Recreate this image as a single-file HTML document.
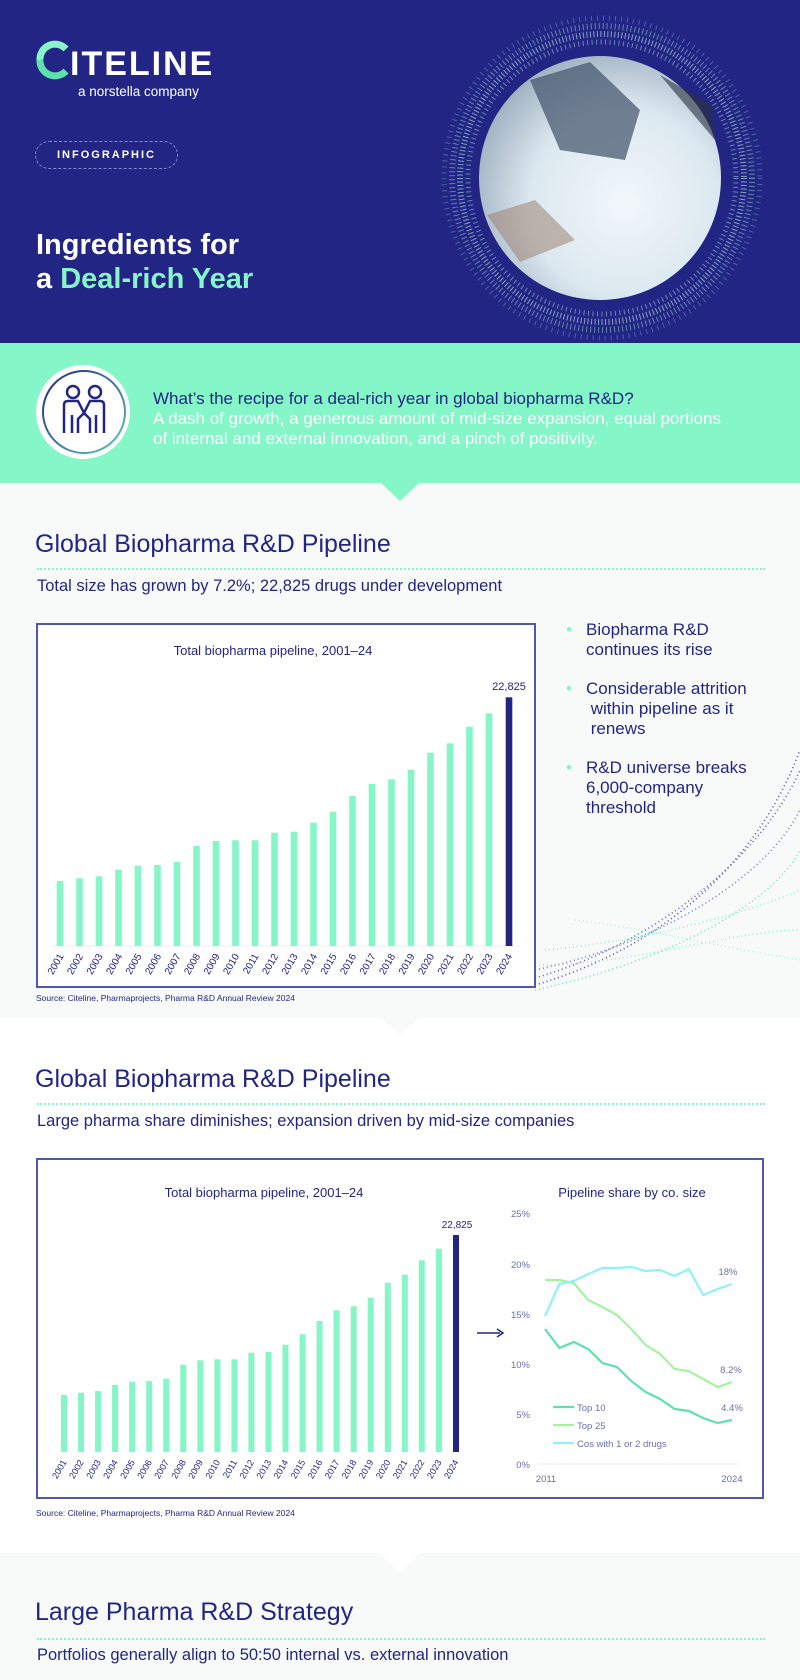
<!DOCTYPE html>
<html><head><meta charset="utf-8">
<style>
*{margin:0;padding:0;box-sizing:border-box}
body{width:800px;height:1680px;position:relative;overflow:hidden;background:#fff;font-family:"Liberation Sans",sans-serif;color:#232584}
.a{position:absolute;white-space:nowrap}
.h{font-size:25px;color:#232584;left:35px}
.dot{position:absolute;left:37px;width:728px;height:0;border-top:2px dotted #86f5c8}
.sub{font-size:16.5px;left:37px;color:#232584}
</style></head><body>
<!-- header -->
<div class="a" style="left:0;top:0;width:800px;height:343px;background:#232584"></div>
<svg class="a" style="left:0;top:0" width="800" height="343">
<defs><radialGradient id="ph" cx="60%" cy="60%" r="65%"><stop offset="0" stop-color="#f2f7fb"/><stop offset="0.6" stop-color="#dce8f0"/><stop offset="1" stop-color="#9fb0c0"/></radialGradient></defs>
<g fill="none">
<ellipse cx="602" cy="178" rx="158" ry="160" stroke="#6f9fc0" stroke-width="5" stroke-dasharray="1 5" opacity="0.5"/>
<ellipse cx="602" cy="178" rx="150" ry="152" stroke="#8cc4c8" stroke-width="6" stroke-dasharray="1 3" opacity="0.6"/>
<ellipse cx="602" cy="178" rx="142" ry="144" stroke="#a9d8d6" stroke-width="6" stroke-dasharray="1 2.5" opacity="0.7"/>
<ellipse cx="602" cy="178" rx="134" ry="136" stroke="#9cc8d0" stroke-width="5" stroke-dasharray="1 3.5" opacity="0.6"/>
</g>
<ellipse cx="600" cy="178" rx="121" ry="122" fill="url(#ph)"/>
<path d="M530 80 L590 62 L640 110 L625 160 L560 150 Z" fill="#4a5a70" opacity="0.75"/>
<path d="M660 75 L715 140 L712 105 Z" fill="#2a3240" opacity="0.6"/>
<path d="M487 215 L535 200 L575 240 L520 262 Z" fill="#9a7a68" opacity="0.5"/>
<path d="M66 49 A15 15 0 0 0 40 60" fill="none" stroke="#86f5c8" stroke-width="7"/>
<path d="M40 60 A15 15 0 0 0 66 71" fill="none" stroke="#5de3a9" stroke-width="7"/>
</svg>
<div class="a" style="left:70px;top:45px;font-size:34px;font-weight:bold;color:#fff;letter-spacing:2px">ITELINE</div>
<div class="a" style="left:78px;top:84px;font-size:13.5px;color:#fff">a norstella company</div>
<div class="a" style="left:35px;top:141px;width:143px;height:28px;border:1px dashed #8088c8;border-radius:14px;color:#fff;font-size:11px;font-weight:bold;letter-spacing:2px;text-align:center;line-height:26px">INFOGRAPHIC</div>
<div class="a" style="left:36px;top:228px;font-size:29px;font-weight:bold;color:#fff;line-height:34px">Ingredients for<br>a <span style="color:#86f5c8">Deal-rich Year</span></div>
<!-- mint band -->
<div class="a" style="left:0;top:343px;width:800px;height:140px;background:#84f6c7"></div>
<div class="a" style="left:0;top:483px;width:800px;height:535px;background:#f8fafa"></div>
<svg class="a" style="left:380px;top:482px" width="40" height="20"><path d="M0 0 L40 0 L20 19 Z" fill="#84f6c7"/></svg>
<svg class="a" style="left:34px;top:363px" width="100" height="100">
<defs><linearGradient id="rg" x1="0" y1="0" x2="1" y2="1"><stop offset="0" stop-color="#232584"/><stop offset="1" stop-color="#5dc8b5"/></linearGradient></defs>
<circle cx="49" cy="49" r="47" fill="#fff"/><circle cx="50" cy="49" r="41" fill="#fff" stroke="url(#rg)" stroke-width="2"/>
<g fill="none" stroke="#232584" stroke-width="2.5"><circle cx="39" cy="29" r="6"/><circle cx="61" cy="29" r="6"/>
<path d="M30 70 V42 Q30 38 34 38 H44 L50 50 L56 38 H66 Q70 38 70 42 V70 M38 70 V52 M62 70 V52 M44 70 V56 L50 50 L56 56 V70"/></g></svg>
<div class="a" style="left:153px;top:389px;font-size:17px;line-height:20px;color:#232584">What’s the recipe for a deal-rich year in global biopharma R&amp;D?</div>
<div class="a" style="left:153px;top:409px;font-size:17px;line-height:20px;color:#fff">A dash of growth, a generous amount of mid-size expansion, equal portions<br>of internal and external innovation, and a pinch of positivity.</div>
<!-- section 1 -->
<div class="a h" style="top:530px">Global Biopharma R&amp;D Pipeline</div>
<div class="dot" style="top:568px"></div>
<div class="a sub" style="top:577px">Total size has grown by 7.2%; 22,825 drugs under development</div>
<svg class="a" style="left:535px;top:750px" width="265" height="245">
<g fill="none" stroke-dasharray="1 3" stroke-width="1.6">
<path d="M0 235 C120 200 220 120 265 0" stroke="#4a52a8"/>
<path d="M0 228 C130 190 230 100 265 20" stroke="#5a62b0"/>
<path d="M0 220 C120 195 230 130 265 60" stroke="#6b7fbf"/>
<path d="M0 240 C140 210 240 150 265 100" stroke="#6fe0b5"/>
<path d="M10 200 C120 190 220 160 265 140" stroke="#86f5c8"/>
<path d="M0 215 C100 215 200 180 265 180" stroke="#86f5c8"/>
<path d="M40 170 C120 180 200 200 265 210" stroke="#a8f5d8"/>
</g></svg>
<div class="a" style="left:36px;top:623px;width:500px;height:365px;border:2px solid #5058aa;background:#fff"></div>
<svg class="a" style="left:0;top:600px" width="540" height="390">
<text x="273" y="55" text-anchor="middle" font-size="13" fill="#232584">Total biopharma pipeline, 2001–24</text>
<line x1="52" y1="346" x2="520" y2="346" stroke="#eee"/>
<g fill="#86f5c8">
<rect x="56.7" y="281" width="6.6" height="65"/><rect x="76.2" y="278.3" width="6.6" height="67.7"/><rect x="95.7" y="276.3" width="6.6" height="69.7"/><rect x="115.2" y="269.7" width="6.6" height="76.3"/><rect x="134.7" y="265.7" width="6.6" height="80.3"/><rect x="154.2" y="265" width="6.6" height="81"/><rect x="173.7" y="262" width="6.6" height="84"/><rect x="193.2" y="246" width="6.6" height="100"/><rect x="212.7" y="241" width="6.6" height="105"/><rect x="232.2" y="240.3" width="6.6" height="105.7"/><rect x="251.7" y="240.3" width="6.6" height="105.7"/><rect x="271.2" y="232.7" width="6.6" height="113.3"/><rect x="290.7" y="231.7" width="6.6" height="114.3"/><rect x="310.2" y="222.7" width="6.6" height="123.3"/><rect x="329.7" y="211.7" width="6.6" height="134.3"/><rect x="349.2" y="196" width="6.6" height="150"/><rect x="368.7" y="184" width="6.6" height="162"/><rect x="388.2" y="179.3" width="6.6" height="166.7"/><rect x="407.7" y="169.7" width="6.6" height="176.3"/><rect x="427.2" y="152.7" width="6.6" height="193.3"/><rect x="446.7" y="143.3" width="6.6" height="202.7"/><rect x="466.2" y="126.7" width="6.6" height="219.3"/><rect x="485.7" y="113.3" width="6.6" height="232.7"/></g>
<rect x="505.7" y="97.3" width="6.6" height="248.7" fill="#232584"/>
<text x="509" y="90" text-anchor="middle" font-size="11" fill="#232584">22,825</text>
<g font-size="10" fill="#232584" text-anchor="end">
<text transform="translate(64,356) rotate(-60)">2001</text><text transform="translate(83.5,356) rotate(-60)">2002</text><text transform="translate(103,356) rotate(-60)">2003</text><text transform="translate(122.5,356) rotate(-60)">2004</text><text transform="translate(142,356) rotate(-60)">2005</text><text transform="translate(161.5,356) rotate(-60)">2006</text><text transform="translate(181,356) rotate(-60)">2007</text><text transform="translate(200.5,356) rotate(-60)">2008</text><text transform="translate(220,356) rotate(-60)">2009</text><text transform="translate(239.5,356) rotate(-60)">2010</text><text transform="translate(259,356) rotate(-60)">2011</text><text transform="translate(278.5,356) rotate(-60)">2012</text><text transform="translate(298,356) rotate(-60)">2013</text><text transform="translate(317.5,356) rotate(-60)">2014</text><text transform="translate(337,356) rotate(-60)">2015</text><text transform="translate(356.5,356) rotate(-60)">2016</text><text transform="translate(376,356) rotate(-60)">2017</text><text transform="translate(395.5,356) rotate(-60)">2018</text><text transform="translate(415,356) rotate(-60)">2019</text><text transform="translate(434.5,356) rotate(-60)">2020</text><text transform="translate(454,356) rotate(-60)">2021</text><text transform="translate(473.5,356) rotate(-60)">2022</text><text transform="translate(493,356) rotate(-60)">2023</text><text transform="translate(512.5,356) rotate(-60)">2024</text></g>
</svg>
<div class="a" style="left:36px;top:993px;font-size:8.5px;color:#232584">Source: Citeline, Pharmaprojects, Pharma R&amp;D Annual Review 2024</div>
<div class="a" style="left:566px;top:620px;font-size:17px;line-height:20px;color:#232584">
<div style="position:relative;margin-bottom:19px"><span style="position:absolute;left:0;color:#86f5c8">•</span><div style="padding-left:20px">Biopharma R&amp;D<br>continues its rise</div></div>
<div style="position:relative;margin-bottom:19px"><span style="position:absolute;left:0;color:#86f5c8">•</span><div style="padding-left:20px">Considerable attrition<br>&nbsp;within pipeline as it<br>&nbsp;renews</div></div>
<div style="position:relative"><span style="position:absolute;left:0;color:#86f5c8">•</span><div style="padding-left:20px">R&amp;D universe breaks<br>6,000-company<br>threshold</div></div>
</div>
<svg class="a" style="left:380px;top:1017px" width="40" height="20"><path d="M0 0 L40 0 L20 19 Z" fill="#f8fafa"/></svg>
<!-- section 2 -->
<div class="a h" style="top:1065px">Global Biopharma R&amp;D Pipeline</div>
<div class="dot" style="top:1103px"></div>
<div class="a sub" style="top:1112px">Large pharma share diminishes; expansion driven by mid-size companies</div>
<div class="a" style="left:36px;top:1158px;width:728px;height:341px;border:2px solid #5058aa;background:#fff"></div>
<svg class="a" style="left:0;top:1150px" width="800" height="360">
<text x="264" y="47" text-anchor="middle" font-size="13" fill="#232584">Total biopharma pipeline, 2001–24</text>
<g fill="#86f5c8">
<rect x="61" y="245" width="6" height="57"/><rect x="78" y="242.7" width="6" height="59.3"/><rect x="95.1" y="241" width="6" height="61"/><rect x="112.1" y="235" width="6" height="67"/><rect x="129.2" y="231.7" width="6" height="70.3"/><rect x="146.2" y="231" width="6" height="71"/><rect x="163.2" y="228.7" width="6" height="73.3"/><rect x="180.3" y="214.7" width="6" height="87.3"/><rect x="197.3" y="210.3" width="6" height="91.7"/><rect x="214.4" y="209.3" width="6" height="92.7"/><rect x="231.4" y="209.3" width="6" height="92.7"/><rect x="248.4" y="202.7" width="6" height="99.3"/><rect x="265.5" y="202" width="6" height="100"/><rect x="282.5" y="194.7" width="6" height="107.3"/><rect x="299.6" y="184.3" width="6" height="117.7"/><rect x="316.6" y="171" width="6" height="131"/><rect x="333.6" y="160.3" width="6" height="141.7"/><rect x="350.7" y="156.3" width="6" height="145.7"/><rect x="367.7" y="147.7" width="6" height="154.3"/><rect x="384.8" y="132.7" width="6" height="169.3"/><rect x="401.8" y="124.7" width="6" height="177.3"/><rect x="418.8" y="110.3" width="6" height="191.7"/><rect x="435.9" y="98.7" width="6" height="203.3"/></g>
<rect x="453" y="85" width="6" height="217" fill="#232584"/>
<text x="457" y="78" text-anchor="middle" font-size="10" fill="#232584">22,825</text>
<g font-size="9" fill="#232584" text-anchor="end">
<text transform="translate(67,312) rotate(-60)">2001</text><text transform="translate(84,312) rotate(-60)">2002</text><text transform="translate(101.1,312) rotate(-60)">2003</text><text transform="translate(118.1,312) rotate(-60)">2004</text><text transform="translate(135.2,312) rotate(-60)">2005</text><text transform="translate(152.2,312) rotate(-60)">2006</text><text transform="translate(169.2,312) rotate(-60)">2007</text><text transform="translate(186.3,312) rotate(-60)">2008</text><text transform="translate(203.3,312) rotate(-60)">2009</text><text transform="translate(220.4,312) rotate(-60)">2010</text><text transform="translate(237.4,312) rotate(-60)">2011</text><text transform="translate(254.4,312) rotate(-60)">2012</text><text transform="translate(271.5,312) rotate(-60)">2013</text><text transform="translate(288.5,312) rotate(-60)">2014</text><text transform="translate(305.6,312) rotate(-60)">2015</text><text transform="translate(322.6,312) rotate(-60)">2016</text><text transform="translate(339.6,312) rotate(-60)">2017</text><text transform="translate(356.7,312) rotate(-60)">2018</text><text transform="translate(373.7,312) rotate(-60)">2019</text><text transform="translate(390.8,312) rotate(-60)">2020</text><text transform="translate(407.8,312) rotate(-60)">2021</text><text transform="translate(424.8,312) rotate(-60)">2022</text><text transform="translate(441.9,312) rotate(-60)">2023</text><text transform="translate(458.9,312) rotate(-60)">2024</text></g>
<line x1="477" y1="183" x2="500" y2="183" stroke="#232584" stroke-width="1.5"/><path d="M497 179 L503 183 L497 187" fill="none" stroke="#232584" stroke-width="1.5"/>
<text x="632" y="47" text-anchor="middle" font-size="13" fill="#232584">Pipeline share by co. size</text>
<g font-size="9.5" fill="#6a6fae" text-anchor="end">
<text x="530" y="67">25%</text><text x="530" y="118">20%</text><text x="530" y="168">15%</text><text x="530" y="218">10%</text><text x="530" y="268">5%</text><text x="530" y="318">0%</text></g>
<line x1="538" y1="314" x2="740" y2="314" stroke="#eee"/>
<g font-size="9.5" fill="#6a6fae" text-anchor="middle"><text x="546" y="332">2011</text><text x="732" y="332">2024</text></g>
<g fill="none" stroke-width="2.2">
<polyline stroke="#5de3a9" points="545,179 559.4,198 573.8,192 588.2,199 602.5,213 616.9,217 631.3,231 645.7,242 660.1,249 674.5,259 688.8,261 703.2,268 717.6,273 732,270"/>
<polyline stroke="#a2f59e" points="545,130 559.4,130 573.8,133 588.2,150 602.5,157 616.9,165 631.3,179 645.7,195 660.1,204 674.5,219 688.8,221 703.2,229 717.6,237 732,232"/>
<polyline stroke="#8ef2f7" points="545,166 559.4,134 573.8,131 588.2,124 602.5,118 616.9,118 631.3,117 645.7,121 660.1,120 674.5,126 688.8,119 703.2,145 717.6,139 732,134"/>
<line x1="553" y1="257" x2="574" y2="257" stroke="#5de3a9"/>
<line x1="553" y1="275" x2="574" y2="275" stroke="#a2f59e"/>
<line x1="553" y1="293" x2="574" y2="293" stroke="#8ef2f7"/></g>
<g font-size="9.5" fill="#6a6fae"><text x="577" y="261">Top 10</text><text x="577" y="279">Top 25</text><text x="577" y="297">Cos with 1 or 2 drugs</text>
<text x="728" y="125" text-anchor="middle">18%</text><text x="731" y="223" text-anchor="middle">8.2%</text><text x="732" y="261" text-anchor="middle">4.4%</text></g>
</svg>
<div class="a" style="left:36px;top:1508px;font-size:8.5px;color:#232584">Source: Citeline, Pharmaprojects, Pharma R&amp;D Annual Review 2024</div>
<!-- section 3 -->
<div class="a" style="left:0;top:1553px;width:800px;height:127px;background:#f8fafa"></div>
<svg class="a" style="left:380px;top:1553px" width="40" height="20"><path d="M0 0 L40 0 L20 19 Z" fill="#fff"/></svg>
<div class="a h" style="top:1598px">Large Pharma R&amp;D Strategy</div>
<div class="dot" style="top:1638px"></div>
<div class="a sub" style="top:1646px">Portfolios generally align to 50:50 internal vs. external innovation</div>
</body></html>
